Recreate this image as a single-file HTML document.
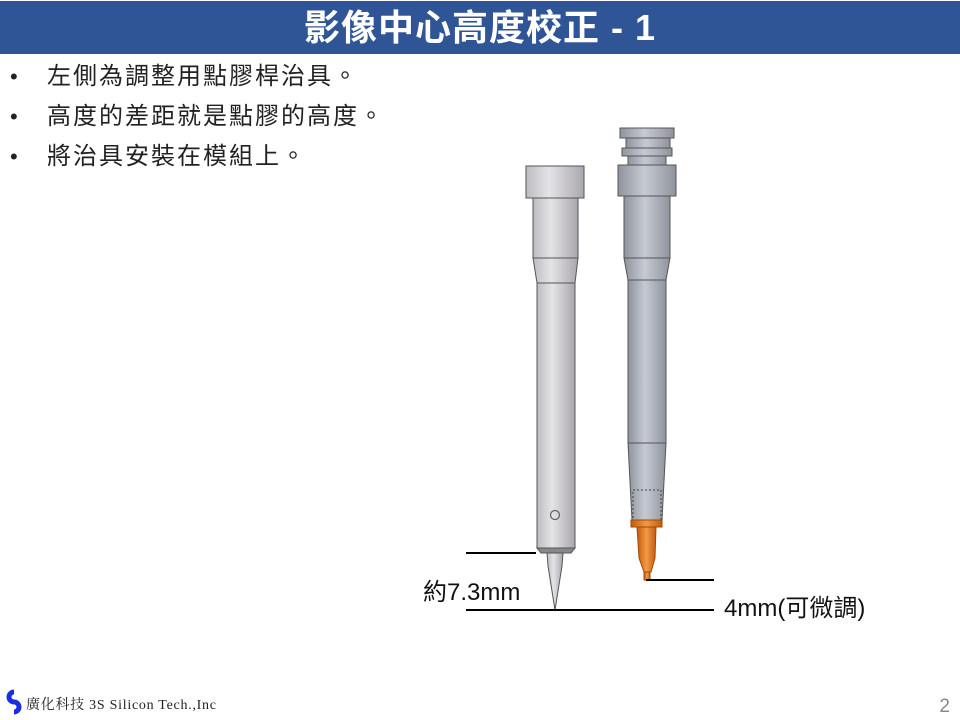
<!DOCTYPE html>
<html><head><meta charset="utf-8"><style>
body{margin:0;width:960px;height:720px;background:#fff;position:relative;overflow:hidden;font-family:"Liberation Sans","Noto Sans CJK TC",sans-serif}
.hdr{position:absolute;left:0;top:1px;width:960px;height:53px;background:#2f5597;color:#fff;font-weight:bold;font-size:36px;text-align:center;line-height:54px;letter-spacing:1px}
.b{position:absolute;left:10px;font-size:24px;color:#222;line-height:30px}
.b i{font-style:normal;font-size:22px}
.b span{position:absolute;left:37px;white-space:nowrap;letter-spacing:2px}
.lbl{position:absolute;font-size:24px;color:#111;white-space:nowrap}
</style></head><body>
<div class="hdr">影像中心高度校正 - 1</div>
<div class="b" style="top:62px"><i>•</i><span>左側為調整用點膠桿治具。</span></div>
<div class="b" style="top:102px"><i>•</i><span>高度的差距就是點膠的高度。</span></div>
<div class="b" style="top:142px"><i>•</i><span>將治具安裝在模組上。</span></div>
<svg style="position:absolute;left:0;top:0" width="960" height="720">
<defs>
<linearGradient id="g1" x1="0" x2="1"><stop offset="0" stop-color="#bdbcc0"/><stop offset=".4" stop-color="#e4e3e6"/><stop offset="1" stop-color="#a9a6ad"/></linearGradient>
<linearGradient id="g2" x1="0" x2="1"><stop offset="0" stop-color="#8e939c"/><stop offset=".45" stop-color="#c5cad3"/><stop offset="1" stop-color="#8f939c"/></linearGradient>
<linearGradient id="g3" x1="0" x2="1"><stop offset="0" stop-color="#c45a0a"/><stop offset=".5" stop-color="#f39a45"/><stop offset="1" stop-color="#c25a10"/></linearGradient>
</defs>
<g stroke="#555" stroke-width="1">
<rect x="526" y="166" width="58" height="32" fill="url(#g1)"/>
<rect x="533" y="198" width="45" height="60" fill="url(#g1)"/>
<polygon points="533,258 578,258 575,283 537,283" fill="url(#g1)"/>
<rect x="537" y="283" width="38" height="265" fill="url(#g1)"/>
<polygon points="537,548 575,548 571,553 541,553" fill="#888"/>
<polygon points="547,553 563,553 562,566 555,610 548,566" fill="url(#g1)"/>
<circle cx="555" cy="515" r="4.5" fill="none" stroke="#666" stroke-width="1.3"/>
<rect x="620" y="128" width="54" height="10" fill="url(#g2)"/>
<rect x="626" y="138" width="44" height="10" fill="url(#g2)"/>
<rect x="622" y="148" width="50" height="8" fill="url(#g2)"/>
<rect x="628" y="156" width="38" height="9" fill="url(#g2)"/>
<rect x="618" y="165" width="58" height="31" fill="url(#g2)"/>
<rect x="624" y="196" width="46" height="62" fill="url(#g2)"/>
<polygon points="624,258 670,258 666,280 628,280" fill="url(#g2)"/>
<rect x="628" y="280" width="38" height="163" fill="url(#g2)"/>
<polygon points="628,443 666,443 662,520 632,520" fill="url(#g2)"/>
<rect x="633" y="490" width="28" height="30" fill="none" stroke="#444" stroke-dasharray="2,2"/>
<rect x="631" y="520" width="31" height="7" fill="url(#g3)" stroke="#a04a00"/>
<polygon points="637,527 656,527 655,558 651,572 644,572 639,558" fill="url(#g3)" stroke="#a04a00"/>
<rect x="644" y="572" width="6" height="8" fill="url(#g3)" stroke="#a04a00"/>
</g>
<g stroke="#000" stroke-width="2">
<line x1="466" y1="553" x2="536" y2="553"/>
<line x1="466" y1="610" x2="714" y2="610"/>
<line x1="646" y1="580" x2="714" y2="580"/>
</g>
<path d="M14 692 a5 5 0 1 0 0 10 a5 5 0 1 1 0 10" stroke="#1a2de0" stroke-width="5" fill="none"/>
<text x="26" y="709" font-family="Liberation Serif,Noto Serif CJK SC,serif" font-size="14" fill="#222" textLength="190">廣化科技 3S Silicon Tech.,Inc</text>
<text x="950" y="712" font-size="19" fill="#888" text-anchor="end">2</text>
</svg>
<div class="lbl" style="left:423px;top:572px">約7.3mm</div>
<div class="lbl" style="left:724px;top:588px">4mm(可微調)</div>
</body></html>
